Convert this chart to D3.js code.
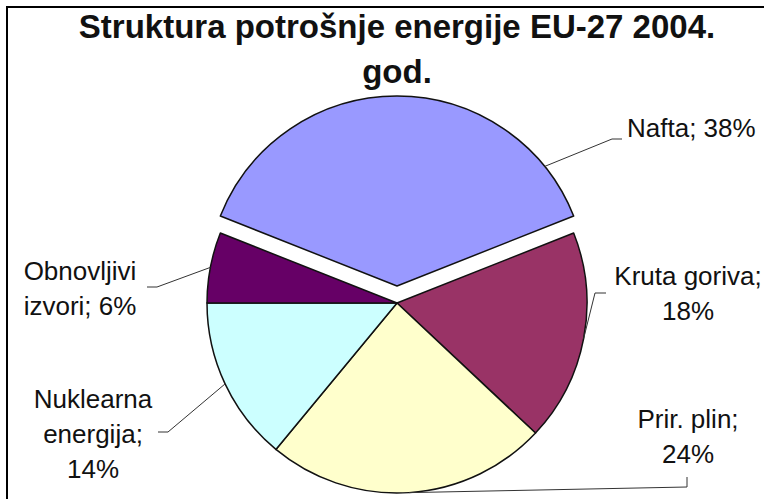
<!DOCTYPE html>
<html>
<head>
<meta charset="utf-8">
<script src="https://d3js.org/d3.v7.min.js"></script>
<style>
  body { margin: 0; background: #fff; }
  text { font-family: "Liberation Sans", Arial, sans-serif; fill: #111; }
</style>
</head>
<body>
<script>
  // data
  var categories = ["Nafta", "Kruta goriva", "Prir. plin", "Nuklearna energija", "Obnovljivi izvori"];
  var values = [38, 18, 24, 14, 6];
  var colors = ["#9999ff", "#993366", "#ffffcc", "#ccffff", "#660066"];
  var labelLines = [
    ["Nafta; 38%"],
    ["Kruta goriva;", "18%"],
    ["Prir. plin;", "24%"],
    ["Nuklearna", "energija;", "14%"],
    ["Obnovljivi", "izvori; 6%"]
  ];
  var titleLines = ["Struktura potrošnje energije EU-27 2004.", "god."];

  var width = 764, height = 499;
  var cx = 397, cy = 303, radius = 190;

  // label layout: text position, anchor, leader elbow points
  var labelLayout = [
    {x: 627, y: 137, anchor: "start",  pts: [[612, 139], [622, 139]], leaderAngle: 51, explode: 17},
    {x: 688, y: 285, anchor: "middle", pts: [[595, 293], [606, 293]]},
    {x: 688, y: 428, anchor: "middle", pts: [[687, 487], [687, 477]]},
    {x: 93,  y: 408, anchor: "middle", pts: [[168, 432], [158, 432]]},
    {x: 80,  y: 280, anchor: "middle", pts: [[157, 287], [147, 287]]}
  ];
  var lineHeight = 35;

  var svg = d3.select("body").append("svg")
    .attr("width", width)
    .attr("height", height);

  // outer frame (right and bottom edges cut off in original)
  svg.append("rect")
    .attr("x", 7).attr("y", 7)
    .attr("width", 800).attr("height", 520)
    .attr("fill", "none")
    .attr("stroke", "#000")
    .attr("stroke-width", 2);

  svg.append("text")
    .attr("x", cx).attr("text-anchor", "middle")
    .style("font-weight", "bold")
    .style("font-size", "33px")
    .selectAll("tspan").data(titleLines).enter()
    .append("tspan")
    .attr("x", cx)
    .attr("y", function(d, i) { return 38 + i * 45; })
    .text(function(d) { return d; });

  var total = d3.sum(values);
  var half = values[0] / 2 / total * 2 * Math.PI;

  var pie = d3.pie().sort(null)
    .startAngle(-half)
    .endAngle(2 * Math.PI - half);
  var arcs = pie(values);

  var arc = d3.arc().innerRadius(0).outerRadius(radius);

  function offset(i) {
    var e = labelLayout[i].explode || 0;
    var a = (arcs[i].startAngle + arcs[i].endAngle) / 2;
    return [Math.sin(a) * e, -Math.cos(a) * e];
  }

  var g = svg.append("g").attr("transform", "translate(" + cx + "," + cy + ")");

  g.selectAll("path.slice").data(arcs).enter()
    .append("path")
    .attr("class", "slice")
    .attr("transform", function(d, i) { var o = offset(i); return "translate(" + o[0] + "," + o[1] + ")"; })
    .attr("d", arc)
    .attr("fill", function(d, i) { return colors[i]; })
    .attr("stroke", "#111")
    .attr("stroke-width", 1.5)
    .attr("stroke-linejoin", "round");

  // leader lines
  var line = d3.line();
  svg.selectAll("path.leader").data(arcs).enter()
    .append("path")
    .attr("class", "leader")
    .attr("d", function(d, i) {
      var L = labelLayout[i];
      var a = L.leaderAngle != null ? L.leaderAngle * Math.PI / 180 : (d.startAngle + d.endAngle) / 2;
      var o = offset(i);
      var p0 = [cx + o[0] + Math.sin(a) * radius, cy + o[1] - Math.cos(a) * radius];
      return line([p0].concat(L.pts));
    })
    .attr("fill", "none")
    .attr("stroke", "#333")
    .attr("stroke-width", 1);

  // labels
  var labels = svg.selectAll("text.lbl").data(arcs).enter()
    .append("text")
    .attr("class", "lbl")
    .style("font-size", "26px")
    .attr("text-anchor", function(d, i) { return labelLayout[i].anchor; });

  labels.selectAll("tspan")
    .data(function(d, i) { return labelLines[i].map(function(t) { return {t: t, L: labelLayout[i]}; }); })
    .enter().append("tspan")
    .attr("x", function(d) { return d.L.x; })
    .attr("y", function(d, j) { return d.L.y + j * lineHeight; })
    .text(function(d) { return d.t; });
</script>
</body>
</html>
